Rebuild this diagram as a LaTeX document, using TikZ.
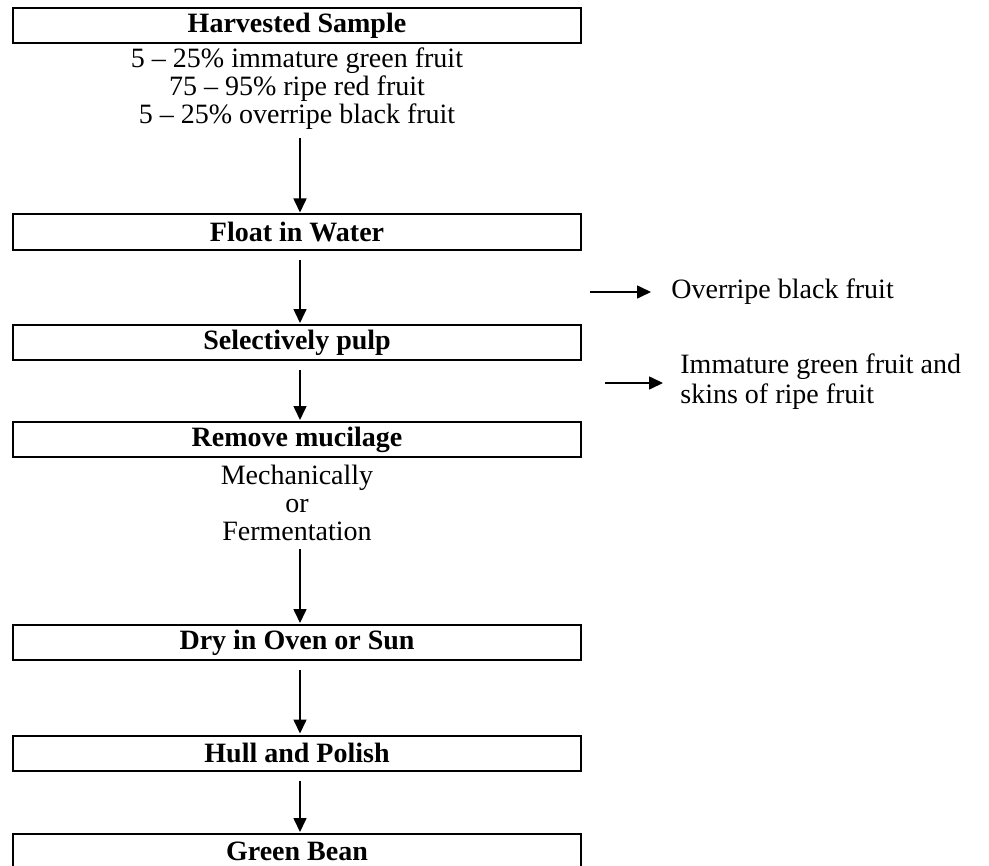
\documentclass[tikz,border=0pt]{standalone}
\usepackage{fontspec}
\setmainfont{Liberation Serif}
\usetikzlibrary{arrows.meta}
\begin{document}
\begin{tikzpicture}
[x=0.5pt,y=-0.5pt,%
  boxdecorate/.style={shape=rectangle,draw,line width=1pt,minimum width=284pt,minimum height=17.5pt,inner sep=0pt,font=\fontsize{14}{15}\selectfont\bfseries},%
  textdecorate/.style={align=center,inner sep=1pt,font=\fontsize{14}{14}\selectfont},%
  sidedecorate/.style={align=left,inner sep=0pt,font=\fontsize{14}{15}\selectfont},%
  linedecorate/.style={-{Triangle[length=7pt,width=6.5pt]},line width=0.8pt,shorten <=4.5pt,shorten >=0.5pt}]
\useasboundingbox (0,0) rectangle (989,866);
% boxes and texts
\node (0) at (297,25.5) [boxdecorate] {Harvested Sample};
\node (1) at (297,89) [textdecorate] {5 -- 25\% immature green fruit\\75 -- 95\% ripe red fruit\\5 -- 25\% overripe black fruit};
\node (2) at (297,232) [boxdecorate] {Float in Water};
\node (3) at (297,342.5) [boxdecorate] {Selectively pulp};
\node (4) at (297,439.5) [boxdecorate] {Remove mucilage};
\node (5) at (297,503) [textdecorate] {Mechanically\\or\\Fermentation};
\node (6) at (297,642.5) [boxdecorate] {Dry in Oven or Sun};
\node (7) at (297,753) [boxdecorate] {Hull and Polish};
\node (8) at (297,851.5) [boxdecorate] {Green Bean};
% side outputs
\node (9) at (671,292) [sidedecorate,anchor=west] {Overripe black fruit};
\node (10) at (680,382) [sidedecorate,anchor=west] {Immature green fruit and\\skins of ripe fruit};
\coordinate (s1) at (590,292);
\coordinate (s2) at (605,383);
% arrows
\path
([xshift=1.5pt]1.south) edge[linedecorate,shorten <=3pt] ([xshift=1.5pt]2.north)
([xshift=1.5pt]2.south) edge[linedecorate] ([xshift=1.5pt]3.north)
([xshift=1.5pt]3.south) edge[linedecorate] ([xshift=1.5pt]4.north)
([xshift=1.5pt]5.south) edge[linedecorate,shorten <=3pt] ([xshift=1.5pt]6.north)
([xshift=1.5pt]6.south) edge[linedecorate] ([xshift=1.5pt]7.north)
([xshift=1.5pt]7.south) edge[linedecorate] ([xshift=1.5pt]8.north)
(s1) edge[linedecorate,shorten <=0pt,shorten >=10pt] (9.west)
(s2) edge[linedecorate,shorten <=0pt,shorten >=8.5pt] (s2 -| 10.west);
\end{tikzpicture}
\end{document}
